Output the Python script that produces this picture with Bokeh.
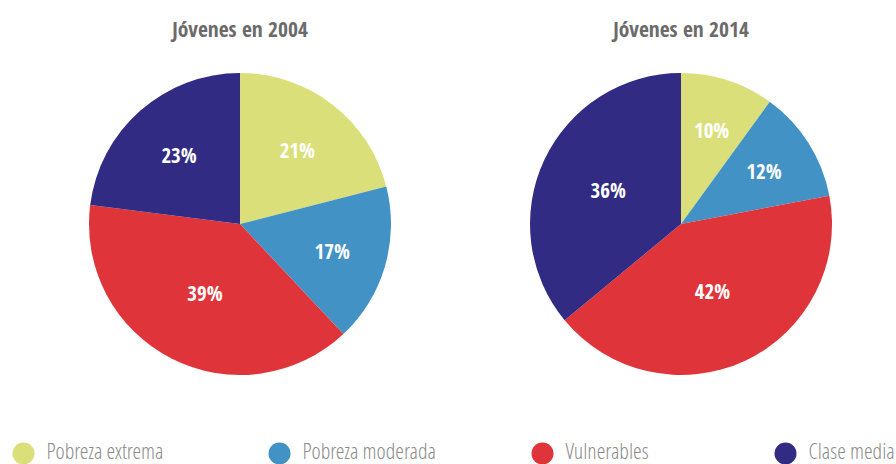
import math
from bokeh.plotting import figure
from bokeh.models import Range1d, ColumnDataSource
from bokeh.core.properties import value
from bokeh.embed import file_html
from bokeh.resources import INLINE

# ---- data ----
categories = ["Pobreza extrema", "Pobreza moderada", "Vulnerables", "Clase media"]
colors = ["#dadf7a", "#4292c6", "#df3439", "#312b84"]
shares_2004 = [21, 17, 39, 23]
shares_2014 = [10, 12, 42, 36]
titles = ["Jóvenes en 2004", "Jóvenes en 2014"]

# ---- layout (canvas pixels, y measured from bottom) ----
W, H = 896, 464
FONT = "Open Sans Condensed"
centers_x = [239.5, 680.5]
center_y = 240.5
R = 151
title_y = 436
legend_x = [23, 279, 542, 785]
legend_y = 11
legend_text_y = 15

p = figure(width=W, height=H, x_range=Range1d(0, W), y_range=Range1d(0, H),
           output_backend="svg", toolbar_location=None, min_border=0)
p.axis.visible = False
p.grid.visible = False
p.outline_line_color = None
p.background_fill_color = "white"

for cx, shares, title in zip(centers_x, [shares_2004, shares_2014], titles):
    total = float(sum(shares))
    starts, ends, lx, ly, labels = [], [], [], [], []
    cum = 0.0
    for s in shares:
        a0 = cum / total * 2 * math.pi
        cum += s
        a1 = cum / total * 2 * math.pi
        starts.append(math.pi / 2 - a0)
        ends.append(math.pi / 2 - a1)
        mid = (a0 + a1) / 2
        half = (a1 - a0) / 2
        d = 2 * R * math.sin(half) / (3 * half)  # sector centroid
        lx.append(cx + d * math.sin(mid))
        ly.append(center_y + d * math.cos(mid))
        labels.append(f"{s}%")
    src = ColumnDataSource(dict(start=starts, end=ends, color=colors,
                                x=[cx] * len(shares), y=[center_y] * len(shares)))
    p.wedge(x="x", y="y", radius=R, start_angle="start", end_angle="end",
            direction="clock", fill_color="color", line_color=None, source=src)
    p.text(x=lx, y=ly, text=labels, text_color="white", text_font=value(FONT),
           text_font_style="bold", text_font_size="21px", text_align="center",
           text_baseline="middle")
    p.text(x=[cx], y=[title_y], text=[title], text_color="#6b6b6b",
           text_font=value(FONT), text_font_style="bold",
           text_font_size="21.5px", text_align="center", text_baseline="middle")

# legend
p.scatter(x=legend_x, y=[legend_y] * 4, marker="circle", size=22,
          fill_color=colors, line_color=None)
p.text(x=[x + 23 for x in legend_x], y=[legend_text_y] * 4, text=categories,
       text_color="#8c8c8c", text_font=value("Open Sans Condensed Light"),
       text_font_size="22px", text_align="left", text_baseline="middle")

open("out.html", "w").write(file_html(p, INLINE))
